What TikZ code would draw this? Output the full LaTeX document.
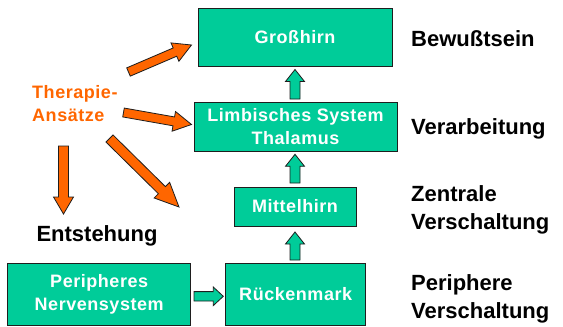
\documentclass[tikz,border=0pt]{standalone}
\usepackage{fontspec}
\setmainfont{Liberation Sans}
\newfontfamily\spacedfont[LetterSpace=3]{Liberation Sans}
\usetikzlibrary{calc}
\definecolor{boxgreen}{RGB}{0,204,153}
\definecolor{orng}{RGB}{255,102,0}
\definecolor{edgec}{RGB}{30,30,30}
% style, from, to, half shaft width, half head width, head length
\newcommand\blockarrow[6]{%
  \coordinate (bahead) at ($(#3)!#6!(#2)$);
  \filldraw[#1] ($(#2)!#4!90:(#3)$) -- ($(bahead)!#4!90:(#3)$) -- ($(bahead)!#5!90:(#3)$) -- (#3)
    -- ($(bahead)!#5!-90:(#3)$) -- ($(bahead)!#4!-90:(#3)$) -- ($(#2)!#4!-90:(#3)$) -- cycle;}
\tikzset{
  gbox/.style={draw=edgec, line width=0.9pt, fill=boxgreen, text=white, inner sep=0pt,
    align=center, font=\spacedfont\fontsize{18}{23}\selectfont\bfseries},
  garrow/.style={draw=edgec, line width=0.8pt, fill=boxgreen, line join=miter},
  oarrow/.style={draw=edgec, line width=0.8pt, fill=orng, line join=miter},
  lbl/.style={anchor=west, align=left, inner sep=0pt, font=\fontsize{22}{28}\selectfont\bfseries},
}
\begin{document}
\begin{tikzpicture}[x=1pt, y=-1pt]
\useasboundingbox (0,0) rectangle (563,327);
% boxes
\node[gbox, minimum width=194pt, minimum height=58pt] (gross) at (295,37) {Großhirn};
\node[gbox, minimum width=203pt, minimum height=49pt] (limb) at (295.5,126.5) {Limbisches System\\Thalamus};
\node[gbox, minimum width=122pt, minimum height=39pt] (mittel) at (295,206.5) {Mittelhirn};
\node[gbox, minimum width=140pt, minimum height=62pt] (ruecken) at (295.7,294.2) {Rückenmark};
\node[gbox, minimum width=183pt, minimum height=62pt] (periph) at (99.2,294.6) {Peripheres\\Nervensystem};
% right labels
\node[lbl] (bew) at (411,39) {Bewußtsein};
\node[lbl] (verarb) at (411,129) {Verarbeitung};
\node[lbl] (zentr) at (411,210) {Zentrale\\Verschaltung};
\node[lbl] (periv) at (411,299) {Periphere\\Verschaltung};
% left labels
\node[anchor=west, align=left, inner sep=0pt, text=orng, font=\spacedfont\fontsize{18}{23}\selectfont\bfseries] (ther) at (32,103.5) {Therapie-\\Ansätze};
\node[inner sep=0pt, font=\fontsize{22}{28}\selectfont\bfseries] (entst) at (97,236) {Entstehung};
% green arrows
\coordinate (g1a) at (295,99);   \coordinate (g1b) at (295,69.5);
\coordinate (g2a) at (295,183);  \coordinate (g2b) at (295,154.3);
\coordinate (g3a) at (295,260);  \coordinate (g3b) at (295,232);
\coordinate (g4a) at (194,296.3); \coordinate (g4b) at (223.3,296.3);
\blockarrow{garrow}{g1a}{g1b}{5pt}{9.5pt}{12pt}
\blockarrow{garrow}{g2a}{g2b}{5pt}{9.5pt}{12pt}
\blockarrow{garrow}{g3a}{g3b}{5pt}{9.5pt}{12pt}
\blockarrow{garrow}{g4a}{g4b}{4.7pt}{9.3pt}{10pt}
% orange arrows
\coordinate (o1a) at (128.5,72);   \coordinate (o1b) at (191.5,45);
\coordinate (o2a) at (123.5,112.5); \coordinate (o2b) at (191.5,124.5);
\coordinate (o3a) at (109.5,138.5); \coordinate (o3b) at (179,207);
\coordinate (o4a) at (63.5,146);   \coordinate (o4b) at (63.5,214);
\blockarrow{oarrow}{o1a}{o1b}{4.5pt}{10pt}{18pt}
\blockarrow{oarrow}{o2a}{o2b}{4.5pt}{10pt}{18pt}
\blockarrow{oarrow}{o3a}{o3b}{5pt}{11pt}{24pt}
\blockarrow{oarrow}{o4a}{o4b}{5pt}{10pt}{17pt}
\end{tikzpicture}
\end{document}
